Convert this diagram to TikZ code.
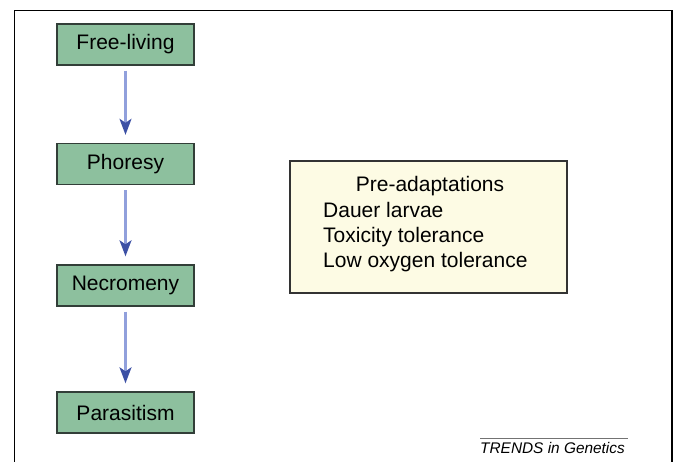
\documentclass[tikz,border=0pt]{standalone}
\usepackage{fontspec}
\setmainfont{Liberation Sans}
\usetikzlibrary{arrows.meta}
\definecolor{stagegreen}{RGB}{141,192,158}
\definecolor{stageedge}{RGB}{50,62,56}
\definecolor{notecream}{RGB}{253,251,228}
\definecolor{flowline}{RGB}{145,160,220}
\definecolor{flowhead}{RGB}{60,80,165}
\tikzset{
	stage/.style={draw=stageedge, line width=1.4pt, fill=stagegreen, minimum width=137pt, minimum height=41pt, inner sep=0pt, font=\fontsize{21}{24}\selectfont},
	flow/.style={draw=flowline, line width=2.2pt, -{Stealth[length=16pt, width=12pt, inset=4pt, color=flowhead]}, shorten <=5pt, shorten >=8pt},
	notebox/.style={draw=black!80, line width=1.1pt, fill=notecream, minimum width=277pt, minimum height=132pt, inner sep=0pt},
	notetext/.style={font=\fontsize{21}{24}\selectfont, inner sep=0pt}
}

\begin{document}
\begin{tikzpicture}[x=1pt, y=-1pt]
		%%%%% START %%%%%
		\useasboundingbox (0, 0) rectangle (676, 462);
		
		\draw[line width=1.4pt] (14.5, 462) -- (14.5, 10.5) -- (672, 10.5) -- (672, 462);
		
		\node[stage] (free) at (125.5, 44.5) {Free-living};
		\node[stage] (phor) at (125.5, 164) {Phoresy};
		\node[stage] (necro) at (125.5, 285.5) {Necromeny};
		\node[stage] (para) at (125.5, 412.5) {Parasitism};
		
		\draw[flow] (free) -- (phor);
		\draw[flow] (phor) -- (necro);
		\draw[flow] (necro) -- (para);
		
		\node[notebox] (pre) at (428.5, 227) {};
		\node[notetext, anchor=base] (pretitle) at (430, 192) {Pre-adaptations};
		\node[notetext, anchor=base west] (dauer) at (323, 218) {Dauer larvae};
		\node[notetext, anchor=base west] (toxic) at (323, 242.5) {Toxicity tolerance};
		\node[notetext, anchor=base west] (lowox) at (323, 267) {Low oxygen tolerance};
		
		\draw[line width=0.8pt, black!55] (480, 438) -- (628, 438);
		\node[inner sep=0pt, anchor=base west, font=\fontsize{15.4}{18}\selectfont\itshape] (journal) at (480, 453) {TRENDS in Genetics};
		
		%%%%% END %%%%%
	\end{tikzpicture}
\end{document}
